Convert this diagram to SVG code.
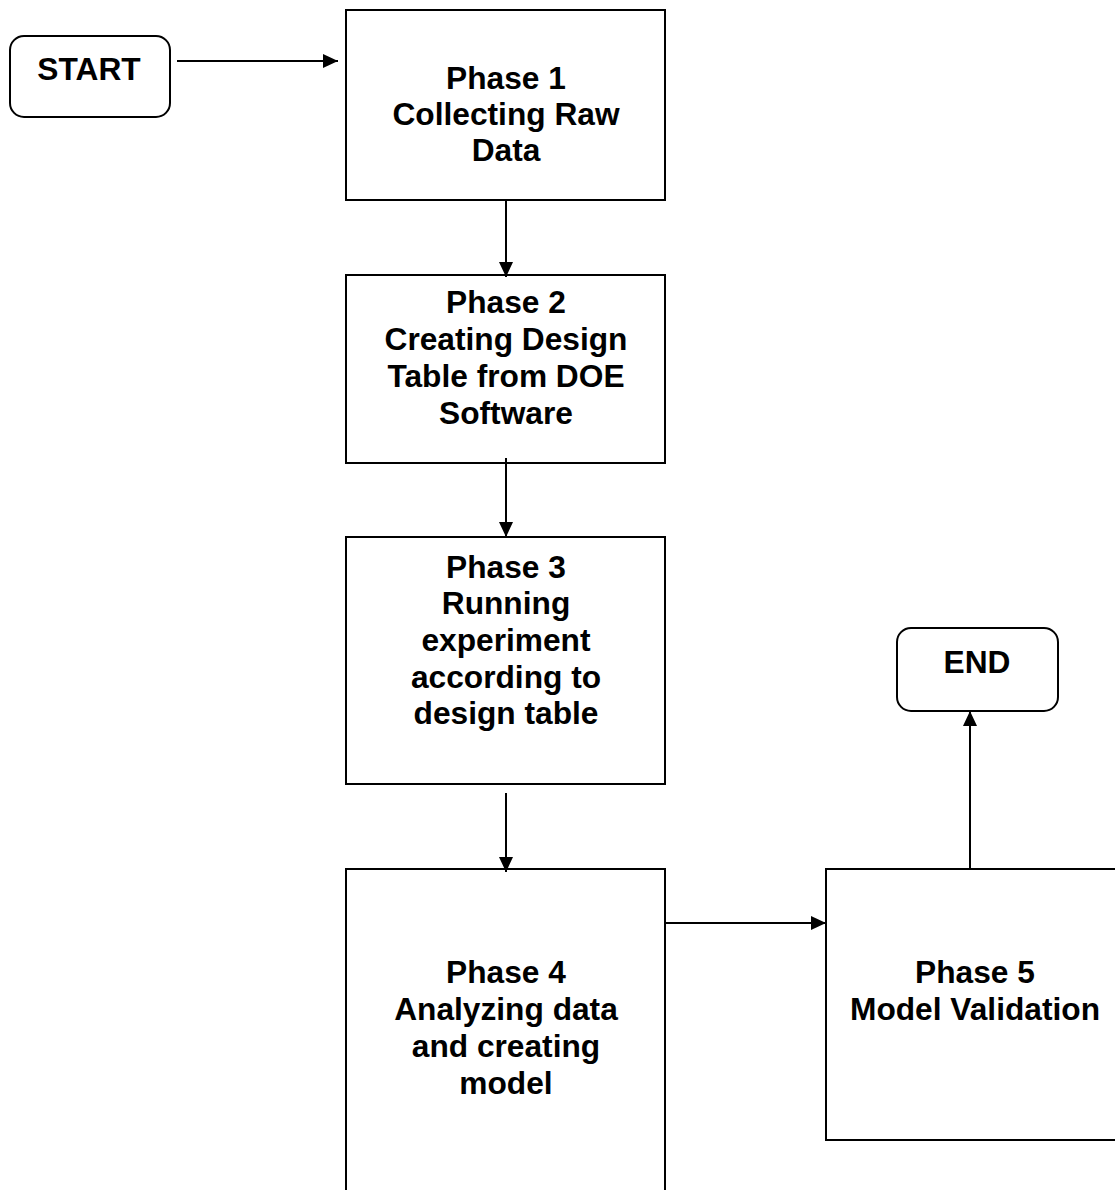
<svg xmlns="http://www.w3.org/2000/svg" width="1115" height="1190" viewBox="0 0 1115 1190">
<defs>
<style>
.box{fill:#fff;stroke:#000;stroke-width:2}
.t{font-family:"Liberation Sans",Arial,sans-serif;font-weight:bold;font-size:31.7px;fill:#000;text-anchor:middle}
.c{stroke:#000;stroke-width:2;fill:none;marker-end:url(#ah)}
</style>
<marker id="ah" viewBox="0 0 15 14" refX="15" refY="7" markerWidth="15" markerHeight="14" markerUnits="userSpaceOnUse" orient="auto">
<path d="M0,0 L15,7 L0,14 Z" fill="#000"/>
</marker>
</defs>
<rect width="1115" height="1190" fill="#fff"/>
<g id="start">
<rect class="box" x="10" y="36" width="160" height="81" rx="14"/>
<text class="t" x="89" y="80">START</text>
</g>
<g id="phase1">
<rect class="box" x="346" y="10" width="319" height="190"/>
<text class="t" x="506" y="89">Phase 1</text>
<text class="t" x="506" y="125">Collecting Raw</text>
<text class="t" x="506" y="161">Data</text>
</g>
<g id="phase2">
<rect class="box" x="346" y="275" width="319" height="188"/>
<text class="t" x="506" y="313">Phase 2</text>
<text class="t" x="506" y="350">Creating Design</text>
<text class="t" x="506" y="387">Table from DOE</text>
<text class="t" x="506" y="424">Software</text>
</g>
<g id="phase3">
<rect class="box" x="346" y="537" width="319" height="247"/>
<text class="t" x="506" y="578">Phase 3</text>
<text class="t" x="506" y="614">Running</text>
<text class="t" x="506" y="651">experiment</text>
<text class="t" x="506" y="688">according to</text>
<text class="t" x="506" y="724">design table</text>
</g>
<g id="phase4">
<rect class="box" x="346" y="869" width="319" height="340"/>
<text class="t" x="506" y="983">Phase 4</text>
<text class="t" x="506" y="1020">Analyzing data</text>
<text class="t" x="506" y="1057">and creating</text>
<text class="t" x="506" y="1094">model</text>
</g>
<g id="phase5">
<rect class="box" x="826" y="869" width="300" height="271"/>
<text class="t" x="975" y="983">Phase 5</text>
<text class="t" x="975" y="1020">Model Validation</text>
</g>
<g id="end">
<rect class="box" x="897" y="628" width="161" height="83" rx="14"/>
<text class="t" x="977" y="673">END</text>
</g>
<g id="connectors">
<line class="c" x1="177" y1="61" x2="338" y2="61"/>
<line class="c" x1="506" y1="200" x2="506" y2="277"/>
<line class="c" x1="506" y1="458" x2="506" y2="537"/>
<line class="c" x1="506" y1="793" x2="506" y2="872"/>
<line class="c" x1="665" y1="923" x2="826" y2="923"/>
<line class="c" x1="970" y1="869" x2="970" y2="711"/>
</g>
</svg>
